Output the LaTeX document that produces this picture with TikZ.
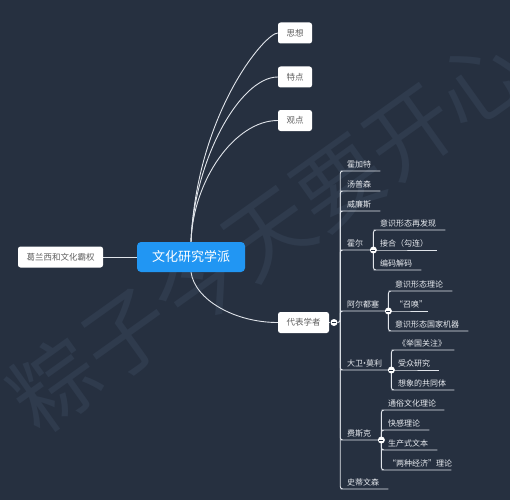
\documentclass[tikz,border=0pt]{standalone}
\usepackage{fontspec}
\setmainfont{Noto Sans CJK SC}
\pgfdeclarelayer{edges}
\pgfsetlayers{edges,main}
\definecolor{bgcol}{RGB}{38,48,64}
\definecolor{wmcol}{RGB}{47,59,77}
\definecolor{linecol}{RGB}{224,228,234}
\definecolor{boxtext}{RGB}{95,95,95}
\definecolor{topicblue}{RGB}{33,150,243}
\definecolor{labeltext}{RGB}{232,235,240}
\begin{document}
\begin{tikzpicture}[x=1pt,y=-1pt,line join=bevel,
  conn/.style={draw=linecol,line width=0.9pt},
  root/.style={fill=topicblue,text=white,rounded corners=4pt,minimum width=108pt,minimum height=30pt,font=\fontsize{13}{15}\selectfont},
  box/.style={fill=white,rounded corners=2.5pt,text=boxtext,minimum height=21pt,inner xsep=8.5pt,font=\fontsize{8.5}{10}\selectfont},
  leaf/.style={anchor=south west,inner xsep=4pt,inner ysep=3pt,align=left,text=labeltext,font=\fontsize{8}{9}\selectfont},
  fold/.style={circle,fill=white,minimum size=7pt,inner sep=0pt,
    path picture={\draw[bgcol,line width=0.7pt] ([xshift=-2pt]path picture bounding box.center) -- ([xshift=2pt]path picture bounding box.center);}}]
\useasboundingbox (0,0) rectangle (510,500);
%%
\begin{pgfonlayer}{edges}
\fill[bgcol] (0,0) rectangle (510,500);
\node (node_wm) at (267.5,232.5) [rotate=35.5,text=wmcol,font=\fontsize{87}{87}\selectfont] {粽子今天要开心};
\end{pgfonlayer}
%%
\node (node_0) at (191,257) [root] {文化研究学派};
\node (node_1) at (60.5,257) [box] {葛兰西和文化霸权};
\node (node_2) at (295,33) [box] {思想};
\node (node_3) at (295,77) [box] {特点};
\node (node_4) at (295,120.5) [box] {观点};
\node (node_5) at (303.5,322.5) [box] {代表学者};
\node (node_6) at (334,322.5) [fold] {};
\coordinate (node_6t) at ([xshift=2.5pt]node_6.east);
%
\node (node_7) at (343,171) [leaf,text width=29pt] {霍加特};
\node (node_8) at (343,191) [leaf,text width=29pt] {汤普森};
\node (node_9) at (343,211) [leaf,text width=29pt] {威廉斯};
\node (node_10) at (343,250) [leaf,text width=22pt] {霍尔};
\node (node_11) at (node_10.south east) [fold] {};
\node (node_12) at (376,230) [leaf,text width=61pt] {意识形态再发现};
\node (node_13) at (376,250) [leaf,text width=53pt] {接合（勾连）};
\node (node_14) at (376,270) [leaf,text width=37pt] {编码解码};
\node (node_15) at (343,311) [leaf,text width=37pt] {阿尔都塞};
\node (node_16) at (node_15.south east) [fold] {};
\node (node_17) at (391,291) [leaf,text width=53pt] {意识形态理论};
\node (node_18) at (391,311) [leaf,text width=29pt] {“召唤”};
\node (node_19) at (391,331) [leaf,text width=69pt] {意识形态国家机器};
\node (node_20) at (343,370) [leaf,text width=40pt] {大卫\kern-2.5pt·\kern-2.5pt莫利};
\node (node_21) at (node_20.south east) [fold] {};
\node (node_22) at (394,350) [leaf,text width=52pt] {《举国关注》};
\node (node_23) at (394,370) [leaf,text width=37pt] {受众研究};
\node (node_24) at (394,390) [leaf,text width=52pt] {想象的共同体};
\node (node_25) at (343,440) [leaf,text width=30pt] {费斯克};
\node (node_26) at (node_25.south east) [fold] {};
\node (node_27) at (384,410) [leaf,text width=52pt] {通俗文化理论};
\node (node_28) at (384,430) [leaf,text width=37pt] {快感理论};
\node (node_29) at (384,450) [leaf,text width=45pt] {生产式文本};
\node (node_30) at (384,470) [leaf,text width=59pt] {“两种经济”理论};
\node (node_31) at (343,489) [leaf,text width=37pt] {史蒂文森};
%%
\begin{pgfonlayer}{edges}
\draw[conn] (node_1) -- (node_0);
\draw[conn] (node_0.north) .. controls (197,113) and (265,33) .. (node_2.west);
\draw[conn] (node_0.north) .. controls (194,160) and (240,77) .. (node_3.west);
\draw[conn] (node_0.north) .. controls (193,180) and (235,120.5) .. (node_4.west);
\draw[conn] (node_0.south) .. controls (195,300) and (235,322.5) .. (node_5.west);
\draw[conn] (node_5) -- (node_6);
%
\begin{scope}[rounded corners=2.5pt]
\draw[conn] (node_6.east) -- (node_6t) |- (node_7.south west) -- (node_7.south east);
\draw[conn] (node_6t) |- (node_8.south west) -- (node_8.south east);
\draw[conn] (node_6t) |- (node_9.south west) -- (node_9.south east);
\draw[conn] (node_6t) |- (node_10.south west) -- (node_10.south east);
\draw[conn] (node_6t) |- (node_15.south west) -- (node_15.south east);
\draw[conn] (node_6t) |- (node_20.south west) -- (node_20.south east);
\draw[conn] (node_6t) |- (node_25.south west) -- (node_25.south east);
\draw[conn] (node_6t) |- (node_31.south west) -- (node_31.south east);
%
\draw[conn] (node_11.center) |- (node_12.south west) -- (node_12.south east);
\draw[conn] (node_11.center) -- (node_13.south west) -- (node_13.south east);
\draw[conn] (node_11.center) |- (node_14.south west) -- (node_14.south east);
\draw[conn] (node_16.center) |- (node_17.south west) -- (node_17.south east);
\draw[conn] (node_16.center) -- (node_18.south west) -- (node_18.south east);
\draw[conn] (node_16.center) |- (node_19.south west) -- (node_19.south east);
\draw[conn] (node_21.center) |- (node_22.south west) -- (node_22.south east);
\draw[conn] (node_21.center) -- (node_23.south west) -- (node_23.south east);
\draw[conn] (node_21.center) |- (node_24.south west) -- (node_24.south east);
\draw[conn] (node_26.center) |- (node_27.south west) -- (node_27.south east);
\draw[conn] (node_26.center) |- (node_28.south west) -- (node_28.south east);
\draw[conn] (node_26.center) |- (node_29.south west) -- (node_29.south east);
\draw[conn] (node_26.center) |- (node_30.south west) -- (node_30.south east);
\end{scope}
\end{pgfonlayer}
%
\end{tikzpicture}
\end{document}
